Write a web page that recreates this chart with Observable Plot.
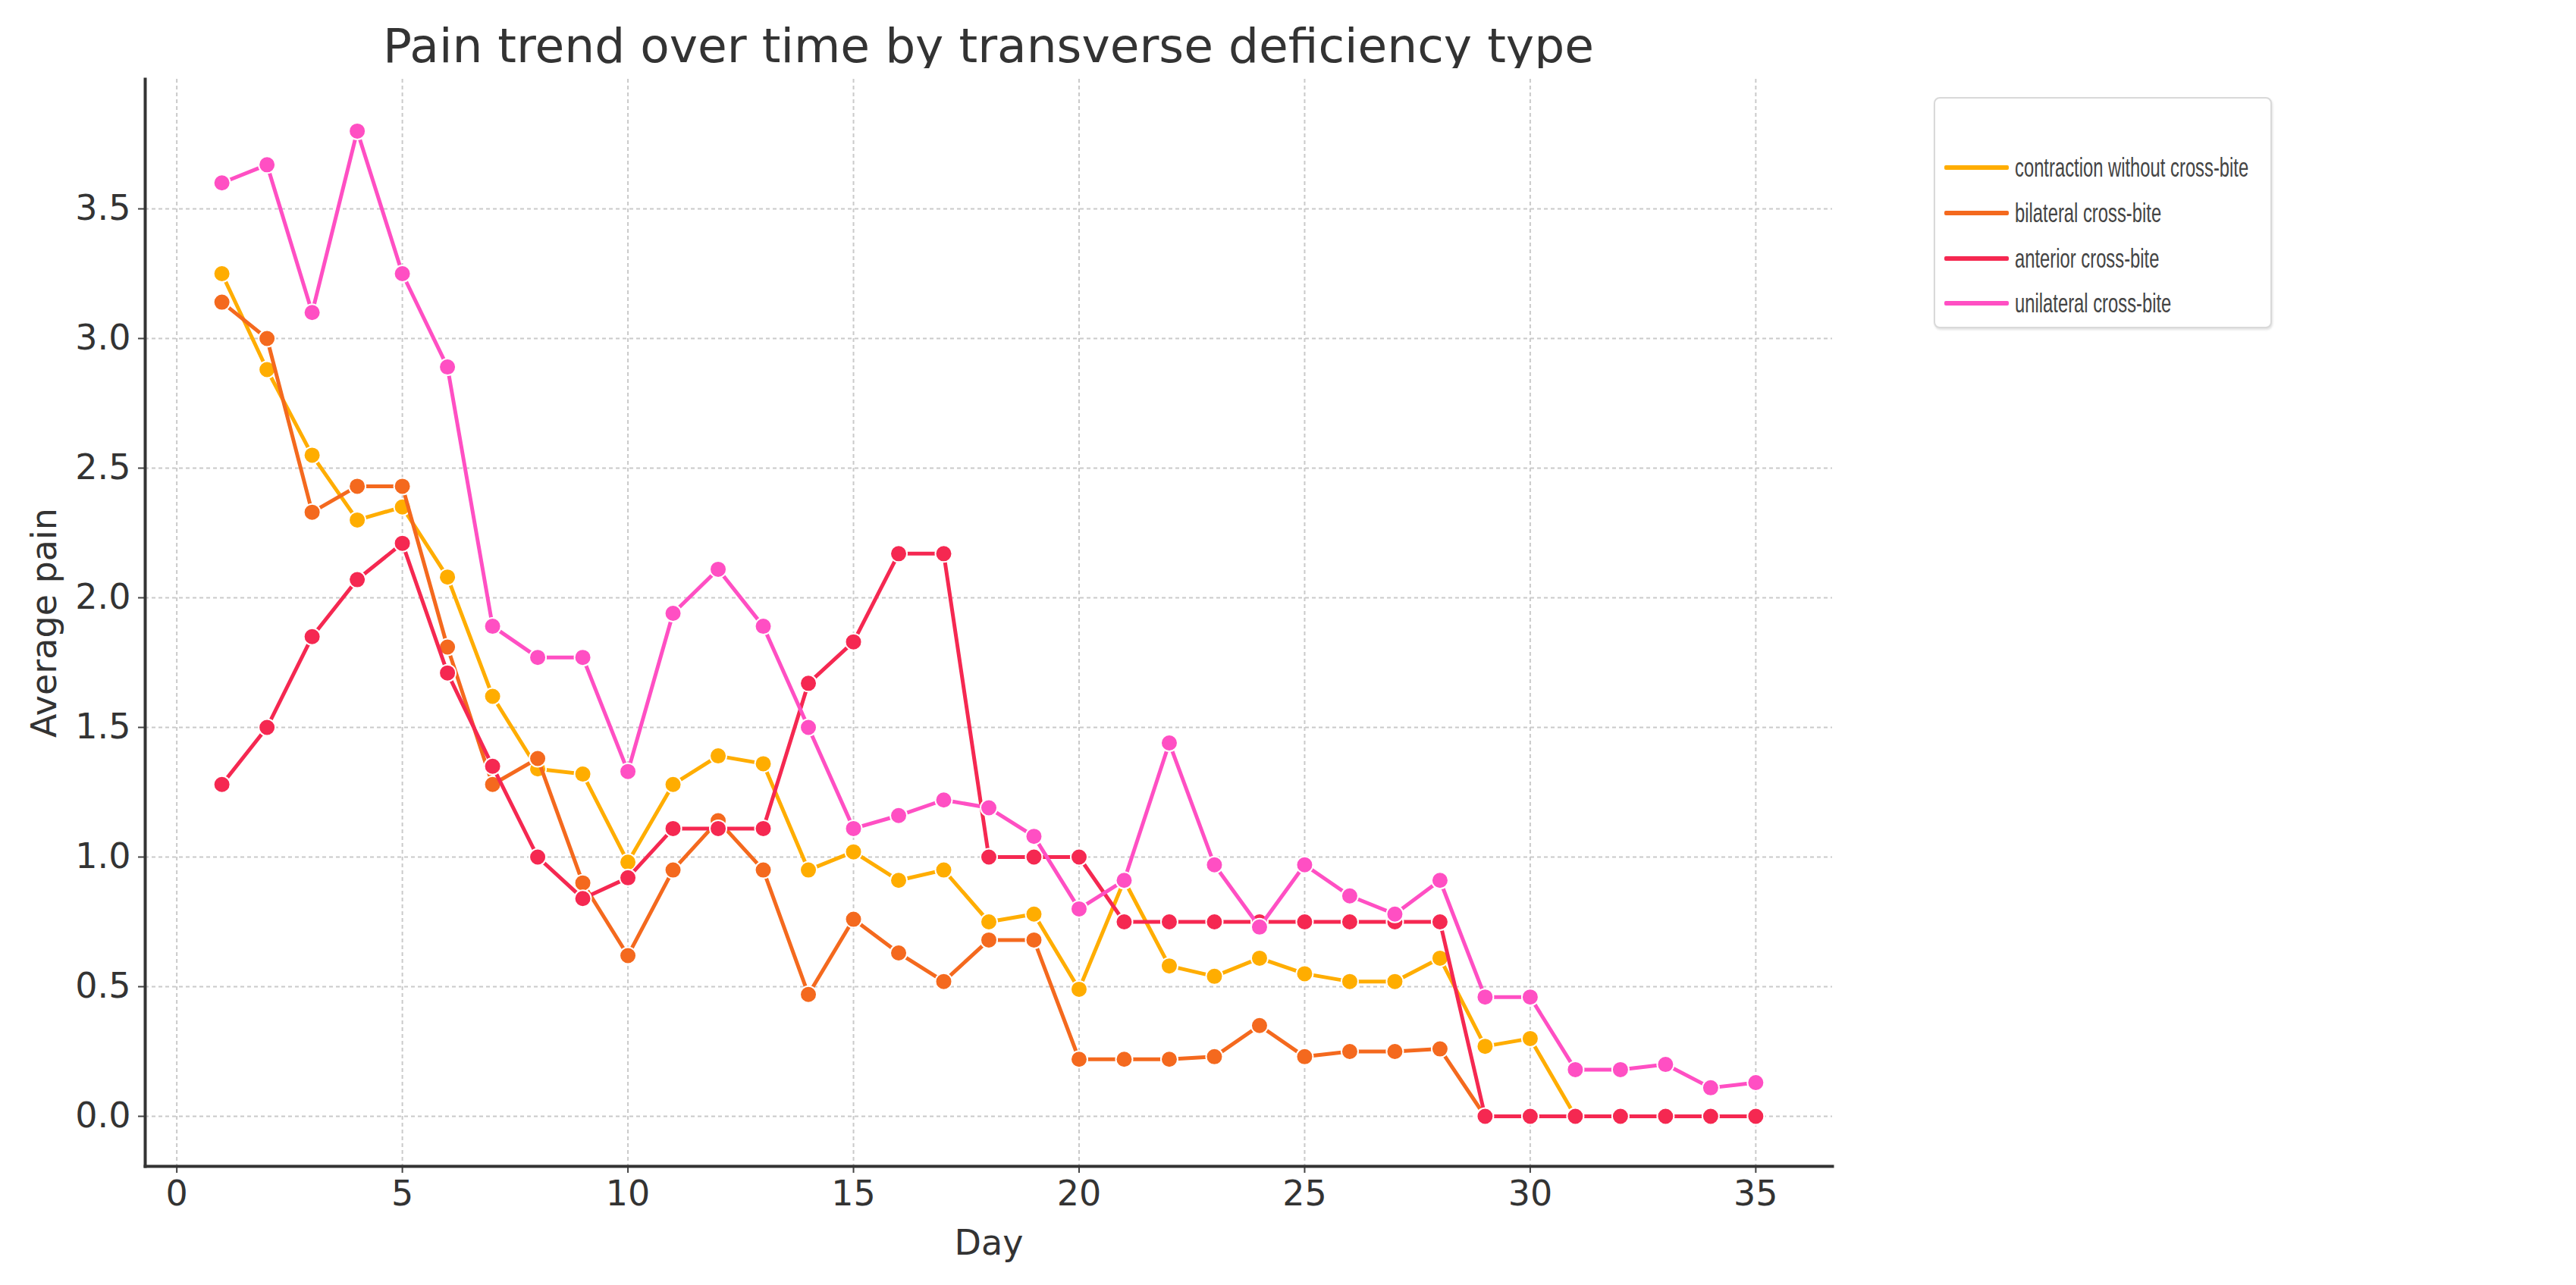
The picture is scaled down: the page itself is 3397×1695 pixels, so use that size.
<!DOCTYPE html>
<html>
<head>
<meta charset="utf-8">
<script src="https://cdn.jsdelivr.net/npm/d3@7"></script>
<script src="https://cdn.jsdelivr.net/npm/@observablehq/plot@0.6"></script>
<style>
  html, body { margin: 0; padding: 0; background: #fff; }
  #wrap { position: relative; width: 3397px; height: 1695px; overflow: hidden; background: #fff; }
  #title { position: absolute; left: 0; width: 2607px; top: 22px; text-align: center;
           font-family: "DejaVu Sans", sans-serif; font-size: 63px; color: #333; line-height: 78px; }
  #chart { position: absolute; left: 0; top: 90px; }
  #legend { position: absolute; left: 2550px; top: 128px; width: 446px; height: 305px;
            border: 2px solid #d9d9d9; border-radius: 8px; background: #fff;
            box-shadow: 1px 2px 3px rgba(0,0,0,0.12); box-sizing: border-box; }
  .entry { position: absolute; left: 12px; height: 40px; }
  .swatch { position: absolute; left: 0; top: 17px; width: 85px; height: 6px; border-radius: 2px; }
  .lab { position: absolute; left: 93px; top: 0; white-space: nowrap; font-family: "Liberation Sans", Arial, sans-serif;
         font-size: 35px; line-height: 40px; color: #444; transform: scaleX(0.68); transform-origin: left center; }
</style>
</head>
<body>
<div id="wrap">
  <div id="title">Pain trend over time by transverse deficiency type</div>
  <div id="chart"></div>
  <div id="legend"></div>
</div>
<script>
// ---- data ----
const days = [1,2,3,4,5,6,7,8,9,10,11,12,13,14,15,16,17,18,19,20,21,22,23,24,25,26,27,28,29,30,31,32,33,34,35];
const contraction = [3.25,2.88,2.55,2.30,2.35,2.08,1.62,1.34,1.32,0.98,1.28,1.39,1.36,0.95,1.02,0.91,0.95,0.75,0.78,0.49,0.91,0.58,0.54,0.61,0.55,0.52,0.52,0.61,0.27,0.30,0,0,0,0,0];
const bilateral   = [3.14,3.00,2.33,2.43,2.43,1.81,1.28,1.38,0.90,0.62,0.95,1.14,0.95,0.47,0.76,0.63,0.52,0.68,0.68,0.22,0.22,0.22,0.23,0.35,0.23,0.25,0.25,0.26,0,0,0,0,0,0,0];
const anterior    = [1.28,1.50,1.85,2.07,2.21,1.71,1.35,1.00,0.84,0.92,1.11,1.11,1.11,1.67,1.83,2.17,2.17,1.00,1.00,1.00,0.75,0.75,0.75,0.75,0.75,0.75,0.75,0.75,0,0,0,0,0,0,0];
const unilateral  = [3.60,3.67,3.10,3.80,3.25,2.89,1.89,1.77,1.77,1.33,1.94,2.11,1.89,1.50,1.11,1.16,1.22,1.19,1.08,0.80,0.91,1.44,0.97,0.73,0.97,0.85,0.78,0.91,0.46,0.46,0.18,0.18,0.20,0.11,0.13];
const seriesNames  = ["contraction without cross-bite", "bilateral cross-bite", "anterior cross-bite", "unilateral cross-bite"];
const seriesColors = ["#FFAD00", "#F4691E", "#F52851", "#FF4FC3"];
const xTickValues = [0,5,10,15,20,25,30,35];
const yTickValues = [0,0.5,1,1.5,2,2.5,3,3.5];
const xLabel = "Day";
const yLabel = "Average pain";

// ---- build ----
const seriesValues = [contraction, bilateral, anterior, unilateral];
const tables = seriesNames.map((name, i) => days.map((d, j) => ({day: d, pain: seriesValues[i][j], series: name})));

const gridStyle = {stroke: "#cacaca", strokeOpacity: 1, strokeWidth: 2, strokeDasharray: "5,4"};
const marks = [
  Plot.gridX(xTickValues, gridStyle),
  Plot.gridY(yTickValues, gridStyle),
  Plot.axisX(xTickValues, {label: xLabel, labelAnchor: "center", labelArrow: "none", labelOffset: 116,
    tickSize: 9, tickPadding: 10, fontSize: 46, stroke: "#444", strokeWidth: 2, fill: "#333"}),
  Plot.axisY(yTickValues, {label: yLabel, labelAnchor: "center", labelArrow: "none", labelOffset: 150,
    tickSize: 9, tickPadding: 10, fontSize: 46, stroke: "#444", strokeWidth: 2, fill: "#333", tickFormat: d3.format(".1f")}),
  Plot.frame({anchor: "left", stroke: "#333", strokeWidth: 4}),
  Plot.frame({anchor: "bottom", stroke: "#333", strokeWidth: 4})
];
tables.forEach((t, i) => {
  marks.push(Plot.lineY(t, {x: "day", y: "pain", stroke: seriesColors[i], strokeWidth: 5}));
  marks.push(Plot.dot(t, {x: "day", y: "pain", fill: seriesColors[i], r: 11, stroke: "#fff", strokeWidth: 2}));
});

const chart = Plot.plot({
  width: 3397,
  height: 1605,
  marginTop: 14,
  marginLeft: 191,
  marginRight: 981,
  marginBottom: 157,
  style: {fontFamily: "DejaVu Sans, sans-serif", fontSize: "46px", color: "#333", background: "#fff"},
  x: {domain: [-0.7, 36.7], label: null},
  y: {domain: [-0.193, 4.0], label: null},
  marks
});
document.getElementById("chart").appendChild(chart);

// legend
const legend = document.getElementById("legend");
const entryTops = [71, 131, 191, 250];
seriesNames.forEach((name, i) => {
  const e = document.createElement("div");
  e.className = "entry";
  e.style.top = entryTops[i] + "px";
  const sw = document.createElement("div");
  sw.className = "swatch";
  sw.style.background = seriesColors[i];
  const lb = document.createElement("div");
  lb.className = "lab";
  lb.textContent = name;
  e.appendChild(sw); e.appendChild(lb);
  legend.appendChild(e);
});
</script>
</body>
</html>
